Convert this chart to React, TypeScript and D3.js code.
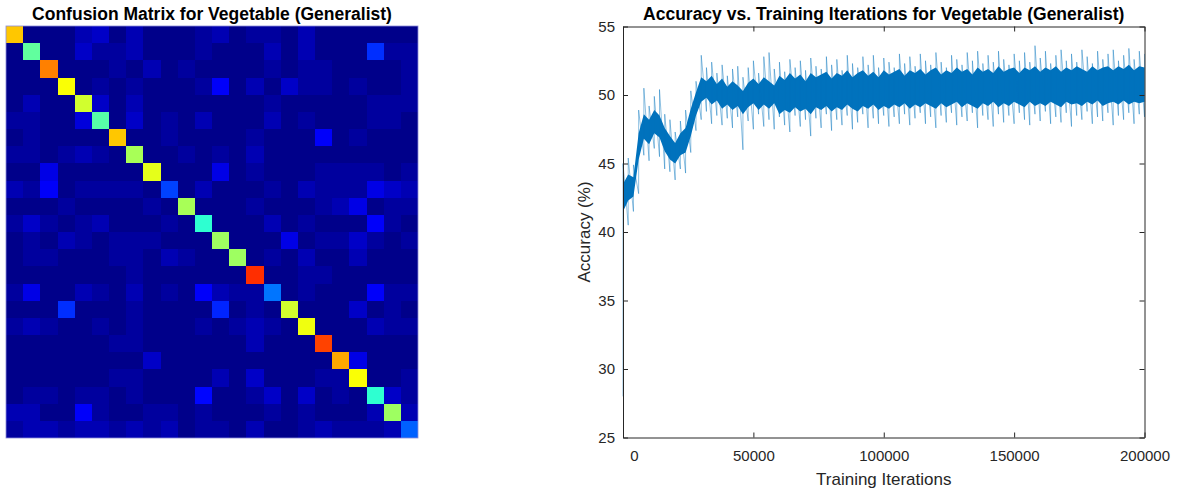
import * as d3 from 'd3';
import React, { useEffect, useRef } from 'react';

// Confusion matrix (row = true class, col = predicted), normalised values x100
const classCount = 24;
const confusionRows: number[][] = [
  [68, 1, 1, 1, 5, 7, 1, 5, 1, 1, 1, 3, 5, 1, 3, 3, 1, 5, 1, 1, 1, 1, 1, 1],
  [1, 47, 1, 1, 7, 3, 3, 5, 1, 1, 1, 3, 1, 1, 1, 5, 1, 5, 1, 1, 1, 17, 3, 3],
  [1, 1, 75, 1, 1, 1, 3, 1, 5, 1, 3, 1, 1, 1, 1, 3, 1, 3, 3, 1, 1, 1, 1, 3],
  [1, 1, 1, 62, 1, 3, 1, 3, 1, 1, 1, 3, 12, 1, 5, 1, 7, 3, 3, 1, 3, 1, 1, 3],
  [1, 5, 1, 1, 58, 7, 1, 5, 1, 1, 1, 1, 1, 1, 1, 3, 1, 1, 1, 1, 1, 3, 3, 3],
  [3, 3, 1, 1, 9, 46, 1, 7, 1, 3, 1, 5, 1, 1, 1, 5, 1, 3, 1, 1, 1, 3, 3, 1],
  [1, 3, 1, 1, 1, 1, 68, 1, 1, 3, 1, 1, 1, 1, 3, 1, 1, 1, 12, 1, 3, 1, 1, 1],
  [3, 3, 1, 3, 5, 3, 1, 54, 1, 1, 3, 1, 3, 1, 5, 1, 1, 1, 1, 1, 1, 1, 1, 1],
  [1, 1, 10, 1, 1, 1, 1, 1, 60, 1, 1, 1, 10, 1, 3, 1, 1, 1, 3, 3, 3, 3, 1, 3],
  [5, 3, 12, 1, 3, 3, 3, 3, 1, 19, 1, 5, 1, 1, 1, 3, 1, 5, 3, 3, 3, 10, 7, 5],
  [1, 1, 1, 3, 1, 1, 1, 1, 3, 1, 54, 1, 1, 1, 3, 1, 1, 1, 3, 5, 10, 1, 3, 3],
  [3, 7, 3, 1, 3, 5, 1, 1, 1, 3, 1, 42, 1, 1, 1, 5, 1, 3, 1, 1, 1, 12, 3, 1],
  [1, 3, 1, 5, 3, 1, 3, 3, 3, 1, 1, 1, 53, 1, 1, 1, 10, 1, 3, 3, 7, 3, 1, 3],
  [1, 3, 3, 1, 1, 1, 3, 3, 1, 5, 3, 1, 1, 53, 1, 3, 1, 5, 1, 1, 5, 1, 1, 1],
  [1, 1, 1, 1, 1, 1, 1, 3, 1, 1, 1, 1, 1, 1, 83, 1, 1, 3, 3, 1, 1, 1, 1, 1],
  [3, 10, 1, 1, 5, 3, 1, 5, 1, 3, 1, 12, 5, 3, 3, 24, 1, 3, 1, 1, 1, 12, 3, 3],
  [1, 1, 1, 17, 1, 1, 1, 3, 1, 1, 1, 1, 16, 1, 3, 1, 58, 1, 1, 1, 7, 1, 3, 1],
  [3, 5, 3, 1, 1, 3, 1, 3, 1, 1, 1, 3, 1, 3, 5, 3, 1, 61, 1, 1, 1, 5, 3, 3],
  [1, 1, 1, 1, 1, 1, 3, 3, 1, 1, 1, 1, 1, 1, 5, 1, 1, 1, 81, 1, 1, 1, 1, 1],
  [1, 1, 1, 1, 1, 1, 1, 1, 7, 1, 1, 1, 1, 1, 1, 1, 1, 1, 1, 71, 10, 1, 1, 1],
  [1, 1, 1, 1, 1, 1, 3, 3, 1, 1, 1, 1, 5, 1, 7, 1, 1, 1, 3, 3, 62, 1, 1, 3],
  [1, 3, 3, 1, 3, 3, 1, 3, 1, 1, 1, 13, 1, 1, 3, 7, 1, 7, 1, 3, 1, 42, 7, 3],
  [5, 5, 1, 1, 12, 3, 1, 1, 3, 3, 1, 3, 1, 1, 1, 3, 1, 3, 1, 1, 1, 5, 53, 5],
  [3, 5, 5, 3, 5, 5, 3, 5, 3, 5, 1, 3, 3, 1, 5, 1, 1, 3, 5, 3, 3, 3, 5, 22],
];

// Accuracy samples, one every 2000 iterations (0 .. 200000)
const iterStep = 2000;
// extremes of the noisy trace (spikes)
const accHigh = [
  45.0, 45.4, 44.9, 48.9, 50.5, 49.2, 49.9, 50.4, 48.6, 48.2,
  47.3, 48.1, 48.9, 50.3, 51.0, 52.9, 52.0, 52.4, 51.6, 52.2,
  51.4, 51.9, 52.1, 51.3, 52.0, 52.5, 51.6, 52.8, 53.1, 51.9,
  52.4, 51.7, 52.6, 52.0, 52.5, 51.8, 52.7, 52.1, 51.9, 52.8,
  52.2, 52.6, 51.8, 52.9, 52.3, 52.0, 52.8, 52.2, 52.9, 52.0,
  52.7, 52.4, 52.0, 53.0, 52.3, 52.8, 52.1, 53.0, 52.5, 52.2,
  53.1, 52.4, 52.0, 52.9, 52.6, 52.2, 53.1, 52.5, 53.2, 52.3,
  52.9, 52.4, 53.2, 52.6, 52.2, 53.0, 52.5, 53.1, 52.4, 53.6,
  52.7, 53.2, 52.3, 52.9, 53.3, 52.5, 53.0, 52.4, 53.3, 52.8,
  52.3, 53.2, 52.6, 53.0, 53.3, 52.5, 52.9, 53.4, 52.6, 53.2,
  53.0,
];
const accLow = [
  28.0, 40.5, 41.5, 42.8, 45.6, 45.2, 46.1, 45.5, 44.6, 44.4,
  43.8, 44.6, 44.3, 45.8, 47.4, 48.2, 48.8, 47.9, 48.5, 47.8,
  48.3, 47.6, 48.4, 46.0, 48.1, 47.5, 48.6, 47.7, 48.2, 47.5,
  48.4, 47.8, 47.3, 48.5, 47.7, 48.2, 47.0, 48.3, 47.6, 48.6,
  47.4, 48.2, 47.8, 48.5, 47.5, 48.0, 48.6, 47.6, 48.3, 47.9,
  48.5, 47.7, 48.4, 47.9, 48.6, 47.8, 48.3, 48.7, 47.9, 48.4,
  47.6, 48.5, 48.0, 48.7, 47.8, 48.4, 48.1, 48.7, 47.6, 48.5,
  48.2, 47.7, 48.6, 48.0, 48.5, 47.9, 48.7, 48.2, 47.8, 48.6,
  48.1, 48.8, 47.9, 48.4, 48.0, 48.7, 47.7, 48.5, 48.2, 48.8,
  47.9, 48.4, 48.1, 48.7, 47.8, 48.5, 48.2, 48.7, 47.9, 48.6,
  48.4,
];
// dense core of the trace
const coreHigh = [
  43.5, 44.2, 44.0, 47.2, 48.6, 48.2, 48.9, 48.5, 47.6, 47.0,
  46.5, 47.2, 47.6, 49.0, 50.2, 51.3, 51.0, 51.4, 50.8, 51.2,
  50.6, 51.0, 50.7, 50.3, 50.9, 51.2, 50.8, 51.3, 51.0, 50.7,
  51.4, 51.1, 51.6, 51.2, 51.5, 51.0, 51.6, 51.3, 51.5, 51.7,
  51.2, 51.6, 51.4, 51.8, 51.3, 51.6, 51.8, 51.4, 51.7, 51.3,
  51.8, 51.5, 51.7, 51.9, 51.4, 51.8, 51.6, 51.9, 51.5, 51.8,
  52.0, 51.5, 51.8, 51.6, 52.0, 51.7, 51.9, 51.5, 52.0, 51.7,
  51.9, 51.6, 52.1, 51.7, 51.9, 52.0, 51.6, 52.0, 51.8, 52.1,
  51.7, 52.0, 51.8, 52.1, 51.7, 52.0, 51.8, 52.1, 51.9, 51.7,
  52.1, 51.8, 52.0, 52.1, 51.8, 52.1, 51.9, 52.2, 51.8, 52.1,
  52.0,
];
const coreLow = [
  41.5, 42.3, 42.6, 45.3, 46.8, 46.4, 47.2, 46.9, 45.9, 45.3,
  45.0, 45.6, 45.8, 47.0, 48.5, 49.5, 49.8, 49.3, 49.6, 49.0,
  49.3, 48.9, 49.2, 48.6, 49.1, 49.4, 48.9, 49.3, 49.0, 49.4,
  48.6, 48.9, 48.7, 49.1, 48.8, 49.0, 48.6, 49.1, 48.9, 49.2,
  48.8, 49.1, 48.9, 49.3, 49.0, 48.8, 49.2, 49.0, 49.3, 48.9,
  49.2, 49.0, 49.3, 49.1, 49.4, 49.0, 49.3, 49.1, 49.4, 49.2,
  49.0, 49.4, 49.1, 49.3, 49.5, 49.1, 49.4, 49.2, 49.0, 49.4,
  49.2, 49.5, 49.1, 49.4, 49.2, 49.5, 49.3, 49.1, 49.5, 49.2,
  49.4, 49.2, 49.5, 49.3, 49.1, 49.5, 49.3, 49.4, 49.2, 49.5,
  49.3, 49.6, 49.2, 49.4, 49.5, 49.3, 49.6, 49.3, 49.5, 49.4,
  49.5,
];

const xTicks = [0, 50000, 100000, 150000, 200000];
const yTicks = [25, 30, 35, 40, 45, 50, 55];

// MATLAB-like jet colormap
const jet = (t: number) => {
  const c = (v: number) => Math.round(255 * Math.max(0, Math.min(1, v)));
  const r = c(1.5 - Math.abs(4 * t - 3));
  const g = c(1.5 - Math.abs(4 * t - 2));
  const b = c(1.5 - Math.abs(4 * t - 1));
  return `rgb(${r},${g},${b})`;
};

const App: React.FC = () => {
  const ref = useRef<SVGSVGElement>(null);

  useEffect(() => {
    if (!ref.current) return;
    const svg = d3.select(ref.current);
    svg.selectAll('*').remove();

    const font = '"Liberation Sans", Arial, Helvetica, sans-serif';
    const ink = '#262626';

    // ---------- Confusion matrix ----------
    const cm = { left: 6, top: 26, size: 412 };
    const band = d3.scaleBand<number>()
      .domain(d3.range(classCount))
      .range([0, cm.size]);
    const color = d3.scaleLinear().domain([0, 100]).range([0, 1]);
    const edge = (i: number) => Math.round(i < classCount ? (band(i) as number) : cm.size);

    const gm = svg.append('g').attr('transform', `translate(${cm.left},${cm.top})`);
    const cells = confusionRows.flatMap((row, r) => row.map((v, c) => ({ r, c, v })));
    gm.selectAll('rect.cell')
      .data(cells)
      .enter().append('rect')
      .attr('class', 'cell')
      .attr('x', d => edge(d.c))
      .attr('y', d => edge(d.r))
      .attr('width', d => edge(d.c + 1) - edge(d.c))
      .attr('height', d => edge(d.r + 1) - edge(d.r))
      .attr('shape-rendering', 'crispEdges')
      .attr('fill', d => jet(color(d.v)));

    gm.append('rect')
      .attr('width', cm.size)
      .attr('height', cm.size)
      .attr('fill', 'none')
      .attr('stroke', '#8c8cd9')
      .attr('stroke-width', 0.8);

    svg.append('text')
      .attr('x', cm.left + cm.size / 2)
      .attr('y', 20)
      .attr('text-anchor', 'middle')
      .style('font', `bold 17.5px ${font}`)
      .style('fill', '#000')
      .text('Confusion Matrix for Vegetable (Generalist)');

    // ---------- Accuracy plot ----------
    const pl = { left: 623, right: 1144.5, top: 26.5, bottom: 437.5 };
    const x = d3.scaleLinear().domain([0, 200000]).range([pl.left, pl.right]);
    const y = d3.scaleLinear().domain([25, 55]).range([pl.bottom, pl.top]);
    const idx = d3.range(accHigh.length);
    const blue = '#0072BD';

    // dense core
    const core = d3.area<number>()
      .x(i => x(i * iterStep))
      .y0(i => y(coreLow[i]))
      .y1(i => y(coreHigh[i]));
    svg.append('path')
      .datum(idx)
      .attr('d', core)
      .attr('fill', blue);

    // spikes
    const spikes = d3.line()(idx.flatMap(i => [
      [x(i * iterStep), y(accLow[i])] as [number, number],
      [x(i * iterStep), y(accHigh[i])] as [number, number],
    ]));
    svg.append('path')
      .attr('d', spikes)
      .attr('fill', 'none')
      .attr('stroke', blue)
      .attr('stroke-opacity', 0.75)
      .attr('stroke-width', 0.6);

    const styleAxis = (g: d3.Selection<SVGGElement, unknown, null, undefined>) => {
      g.select('.domain').attr('stroke', ink).attr('stroke-width', 1);
      g.selectAll('.tick line').attr('stroke', ink).attr('stroke-width', 1);
      g.selectAll('.tick text').style('font', `15px ${font}`).style('fill', ink);
    };

    const gx = svg.append('g')
      .attr('transform', `translate(0,${pl.bottom})`)
      .call(d3.axisBottom(x).tickValues(xTicks).tickSize(-5).tickSizeOuter(0).tickPadding(13)
        .tickFormat(d => String(d)));
    styleAxis(gx);
    gx.selectAll('.tick text').filter(d => d === 0).attr('dx', 11);

    const gxTop = svg.append('g')
      .attr('transform', `translate(0,${pl.top})`)
      .call(d3.axisTop(x).tickValues(xTicks).tickSize(-5).tickSizeOuter(0).tickFormat(() => ''));
    styleAxis(gxTop);

    const gy = svg.append('g')
      .attr('transform', `translate(${pl.left},0)`)
      .call(d3.axisLeft(y).tickValues(yTicks).tickSize(-5).tickSizeOuter(0).tickPadding(8)
        .tickFormat(d => String(d)));
    styleAxis(gy);

    const gyRight = svg.append('g')
      .attr('transform', `translate(${pl.right},0)`)
      .call(d3.axisRight(y).tickValues(yTicks).tickSize(-5).tickSizeOuter(0).tickFormat(() => ''));
    styleAxis(gyRight);

    svg.append('text')
      .attr('x', (pl.left + pl.right) / 2)
      .attr('y', 20)
      .attr('text-anchor', 'middle')
      .style('font', `bold 17.5px ${font}`)
      .style('fill', '#000')
      .text('Accuracy vs. Training Iterations for Vegetable (Generalist)');

    svg.append('text')
      .attr('x', (pl.left + pl.right) / 2)
      .attr('y', 485)
      .attr('text-anchor', 'middle')
      .style('font', `17px ${font}`)
      .style('fill', ink)
      .text('Training Iterations');

    svg.append('text')
      .attr('transform', `translate(590,${(pl.top + pl.bottom) / 2}) rotate(-90)`)
      .attr('text-anchor', 'middle')
      .style('font', `17px ${font}`)
      .style('fill', ink)
      .text('Accuracy (%)');
  }, []);

  return (
    <svg
      ref={ref}
      width={1177}
      height={491}
      style={{ position: 'absolute', left: 0, top: 0, background: '#fff' }}
    />
  );
};

export default App;
